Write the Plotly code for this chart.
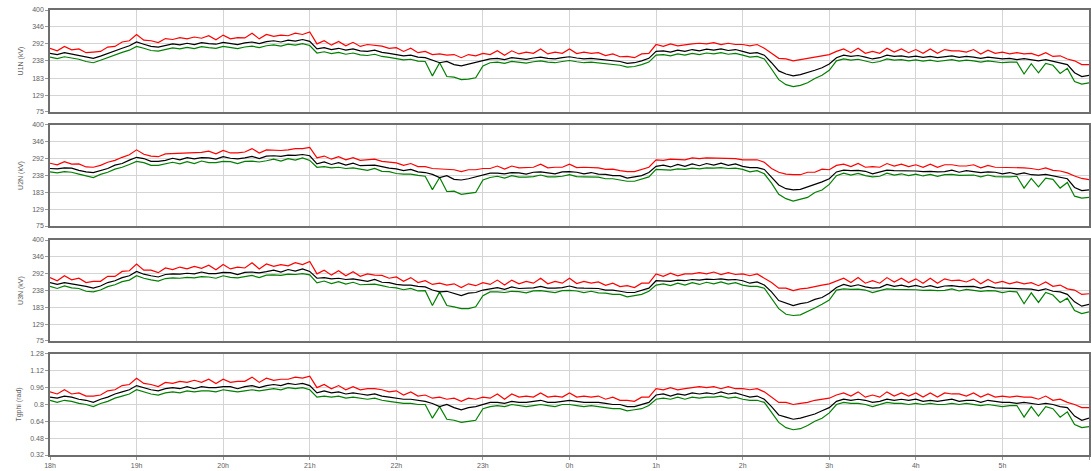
import pandas as pd
import plotly.graph_objects as go

# 5-minute samples from 18h to 6h next morning
times = pd.date_range("2013-01-14 18:00", "2013-01-15 06:00", freq="5min")
hour_ticks = pd.date_range("2013-01-14 18:00", "2013-01-15 06:00", freq="1h")
hour_labels = ["18h", "19h", "20h", "21h", "22h", "23h", "0h", "1h", "2h", "3h", "4h", "5h", "6h"]

volt_ticks = [75, 129, 183, 238, 292, 346, 400]
tg_ticks = [0.32, 0.48, 0.64, 0.8, 0.96, 1.12, 1.28]
tg_labels = ["0.32", "0.48", "0.64", "0.8", "0.96", "1.12", "1.28"]

panel_titles = ["U1N (kV)", "U2N (kV)", "U3N (kV)", "Tgphi (rad)"]

# ---- U1N ----
u1_max = [278, 270, 284, 273, 276, 264, 266, 268, 282, 284,
          298, 302, 322, 304, 302, 296, 309, 306, 312, 308,
          314, 310, 318, 305, 320, 308, 312, 311, 326, 308,
          322, 316, 320, 318, 326, 322, 330, 292, 302, 288,
          300, 286, 297, 284, 290, 288, 285, 278, 280, 268,
          278, 264, 268, 258, 260, 256, 258, 248, 258, 254,
          262, 258, 270, 256, 270, 260, 266, 262, 276, 260,
          266, 262, 276, 261, 266, 262, 264, 255, 260, 251,
          252, 248, 260, 262, 290, 284, 292, 286, 290, 292,
          294, 292, 296, 290, 294, 290, 290, 286, 290, 278,
          262, 246, 244, 238, 242, 246, 250, 256, 258, 268,
          276, 264, 278, 262, 268, 262, 278, 266, 276, 264,
          274, 262, 276, 262, 274, 270, 270, 266, 274, 260,
          272, 262, 266, 260, 264, 260, 262, 254, 264, 252,
          254, 244, 238, 226, 226]
u1_avg = [262, 258, 264, 260, 256, 250, 246, 253, 262, 270,
          278, 286, 298, 291, 284, 282, 288, 292, 289, 294,
          290, 296, 293, 291, 297, 294, 290, 295, 298, 293,
          299, 302, 298, 304, 301, 306, 300, 276, 280, 274,
          278, 272, 276, 270, 268, 272, 265, 262, 258, 254,
          256, 250, 248, 240, 232, 236, 226, 222, 228, 232,
          238, 244, 246, 242, 248, 245, 243, 247, 250, 246,
          244, 248, 251, 247, 244, 246, 243, 240, 238, 236,
          230, 232, 238, 246, 268, 270, 266, 272, 268, 274,
          270, 275, 272, 276, 271, 274, 268, 262, 264, 256,
          232, 206, 196, 190, 194, 200, 208, 216, 228, 248,
          256, 252, 255, 250, 244, 248, 256, 252, 254, 250,
          253, 249, 252, 248, 251, 254, 249, 252, 250, 246,
          250, 247, 244, 246, 242, 245, 241, 238, 242, 236,
          232, 226, 200, 188, 192]
u1_min = [250, 245, 251, 247, 243, 236, 232, 240, 249, 257,
          265, 272, 284, 278, 271, 269, 275, 279, 276, 281,
          277, 283, 280, 278, 284, 281, 277, 282, 285, 280,
          286, 289, 285, 291, 288, 293, 287, 263, 267, 261,
          265, 259, 263, 257, 255, 259, 252, 249, 245, 241,
          243, 237, 236, 190, 232, 188, 186, 178, 180, 184,
          222, 232, 234, 230, 236, 233, 231, 235, 238, 234,
          232, 236, 239, 235, 232, 234, 231, 228, 226, 224,
          218, 220, 226, 234, 256, 258, 254, 260, 256, 262,
          258, 263, 260, 264, 259, 262, 256, 250, 252, 244,
          212, 178, 162, 156, 160, 168, 182, 192, 208, 238,
          244, 240, 243, 238, 232, 236, 244, 240, 242, 238,
          241, 237, 240, 236, 239, 242, 237, 240, 238, 234,
          238, 235, 232, 234, 234, 196, 229, 200, 230, 224,
          198, 214, 172, 164, 168]

# ---- U2N ----
u2_max = [277, 272, 282, 274, 275, 265, 264, 270, 280, 286,
          296, 304, 320, 306, 300, 298, 307, 308, 310, 310,
          312, 312, 316, 307, 318, 310, 310, 313, 324, 310,
          320, 318, 318, 320, 324, 324, 328, 294, 300, 290,
          298, 288, 295, 286, 288, 290, 283, 280, 278, 270,
          276, 266, 266, 260, 258, 258, 256, 250, 256, 256,
          260, 260, 268, 258, 268, 262, 264, 264, 274, 262,
          264, 264, 274, 263, 264, 264, 262, 257, 258, 253,
          250, 250, 258, 264, 288, 286, 290, 288, 288, 294,
          292, 294, 294, 292, 292, 292, 288, 288, 288, 280,
          260, 248, 242, 240, 240, 248, 248, 258, 256, 270,
          274, 266, 276, 264, 266, 264, 276, 268, 274, 266,
          272, 264, 274, 264, 272, 272, 268, 268, 272, 262,
          270, 264, 264, 262, 262, 262, 260, 256, 262, 254,
          252, 246, 236, 228, 224]
u2_avg = [260, 259, 262, 261, 254, 249, 247, 254, 260, 271,
          276, 287, 296, 292, 283, 283, 286, 293, 288, 295,
          291, 295, 294, 290, 298, 293, 291, 294, 299, 292,
          300, 301, 299, 303, 302, 305, 301, 275, 281, 273,
          279, 271, 277, 269, 269, 271, 266, 261, 259, 253,
          257, 249, 247, 241, 231, 237, 225, 223, 227, 233,
          237, 245, 245, 243, 247, 246, 242, 248, 249, 247,
          243, 249, 250, 248, 243, 247, 242, 241, 237, 237,
          229, 233, 237, 247, 267, 271, 265, 273, 267, 275,
          269, 276, 271, 277, 270, 275, 267, 263, 263, 257,
          231, 207, 195, 191, 193, 201, 207, 217, 227, 249,
          255, 253, 254, 251, 243, 249, 255, 253, 253, 251,
          252, 250, 251, 249, 250, 255, 248, 253, 249, 247,
          249, 248, 243, 247, 241, 246, 240, 239, 241, 237,
          231, 227, 199, 189, 191]
u2_min = [249, 246, 250, 248, 242, 237, 231, 241, 248, 258,
          264, 273, 283, 279, 270, 270, 274, 280, 275, 282,
          276, 284, 279, 279, 283, 282, 276, 283, 284, 281,
          285, 290, 284, 292, 287, 294, 286, 264, 266, 262,
          264, 260, 262, 258, 254, 260, 251, 250, 244, 242,
          242, 238, 235, 192, 231, 186, 187, 177, 181, 183,
          223, 231, 235, 229, 237, 232, 232, 234, 239, 233,
          233, 235, 240, 234, 233, 233, 232, 227, 227, 223,
          219, 219, 227, 233, 257, 257, 255, 259, 257, 261,
          259, 262, 261, 263, 260, 261, 257, 249, 253, 243,
          213, 177, 163, 155, 161, 167, 183, 191, 209, 237,
          245, 239, 244, 237, 233, 235, 245, 239, 243, 237,
          242, 236, 241, 235, 240, 241, 238, 239, 239, 233,
          239, 234, 233, 233, 235, 197, 228, 201, 229, 225,
          197, 215, 171, 165, 167]

# ---- U3N ----
u3_max = [279, 269, 285, 272, 277, 263, 267, 267, 283, 283,
          299, 301, 323, 303, 303, 295, 310, 305, 313, 307,
          315, 309, 319, 304, 321, 307, 313, 310, 327, 307,
          323, 315, 321, 317, 327, 321, 331, 291, 303, 287,
          301, 285, 298, 283, 291, 287, 286, 277, 281, 267,
          279, 263, 269, 257, 261, 255, 259, 247, 259, 253,
          263, 257, 271, 255, 271, 259, 267, 261, 277, 259,
          267, 261, 277, 260, 267, 261, 265, 254, 261, 250,
          253, 247, 261, 261, 291, 283, 293, 285, 291, 291,
          295, 291, 297, 289, 295, 289, 291, 285, 291, 277,
          263, 245, 245, 237, 243, 245, 251, 255, 259, 267,
          277, 263, 279, 261, 269, 261, 279, 265, 277, 263,
          275, 261, 277, 261, 275, 269, 271, 265, 275, 259,
          273, 261, 267, 259, 265, 259, 263, 253, 265, 251,
          255, 243, 239, 225, 227]
u3_avg = [263, 257, 263, 259, 257, 251, 245, 252, 263, 269,
          279, 285, 299, 290, 285, 281, 289, 291, 290, 293,
          291, 297, 292, 292, 296, 295, 289, 296, 297, 294,
          298, 303, 297, 305, 300, 307, 299, 277, 279, 275,
          277, 273, 275, 271, 267, 273, 264, 263, 257, 255,
          255, 251, 249, 239, 233, 235, 227, 221, 229, 231,
          239, 243, 247, 241, 249, 244, 244, 246, 251, 245,
          245, 247, 252, 246, 245, 245, 244, 239, 239, 235,
          231, 231, 239, 245, 269, 269, 267, 271, 269, 273,
          271, 274, 273, 275, 272, 273, 269, 261, 265, 255,
          233, 205, 197, 189, 195, 199, 209, 215, 229, 247,
          257, 251, 256, 249, 245, 247, 257, 251, 255, 249,
          254, 248, 253, 247, 252, 253, 250, 251, 251, 245,
          251, 246, 245, 245, 243, 244, 242, 237, 243, 235,
          233, 225, 201, 187, 193]
u3_min = [251, 244, 252, 246, 244, 235, 233, 239, 250, 256,
          266, 271, 285, 277, 272, 268, 276, 278, 277, 280,
          278, 282, 281, 277, 285, 280, 278, 281, 286, 279,
          287, 288, 286, 290, 289, 292, 288, 262, 268, 260,
          266, 258, 264, 256, 256, 258, 253, 248, 246, 240,
          244, 236, 237, 189, 233, 189, 185, 179, 179, 185,
          221, 233, 233, 231, 235, 234, 230, 236, 237, 235,
          231, 237, 238, 236, 231, 235, 230, 229, 225, 225,
          217, 221, 225, 235, 255, 259, 253, 261, 255, 263,
          257, 264, 259, 265, 258, 263, 255, 251, 251, 245,
          211, 179, 161, 157, 159, 169, 181, 193, 207, 239,
          243, 241, 242, 239, 231, 237, 243, 241, 241, 239,
          240, 238, 239, 237, 238, 243, 236, 241, 237, 235,
          237, 236, 231, 235, 233, 195, 230, 199, 231, 223,
          199, 213, 173, 163, 169]

# ---- Tg phi ----
tg_max = [0.92, 0.90, 0.94, 0.90, 0.91, 0.88, 0.88, 0.89, 0.93, 0.94,
          0.98, 0.99, 1.05, 1.00, 0.99, 0.97, 1.01, 1.00, 1.02, 1.01,
          1.03, 1.01, 1.04, 1.00, 1.04, 1.01, 1.02, 1.02, 1.06, 1.01,
          1.05, 1.03, 1.04, 1.04, 1.06, 1.05, 1.07, 0.96, 0.99, 0.95,
          0.98, 0.94, 0.97, 0.94, 0.95, 0.95, 0.94, 0.92, 0.93, 0.89,
          0.92, 0.88, 0.89, 0.86, 0.87, 0.85, 0.86, 0.83, 0.86, 0.85,
          0.87, 0.86, 0.90, 0.85, 0.90, 0.87, 0.88, 0.87, 0.91, 0.87,
          0.88, 0.87, 0.91, 0.87, 0.88, 0.87, 0.88, 0.85, 0.87, 0.84,
          0.84, 0.83, 0.87, 0.87, 0.95, 0.94, 0.96, 0.94, 0.95, 0.96,
          0.97, 0.96, 0.97, 0.95, 0.97, 0.95, 0.95, 0.94, 0.95, 0.92,
          0.87, 0.82, 0.82, 0.80, 0.81, 0.82, 0.84, 0.85, 0.86, 0.89,
          0.91, 0.88, 0.92, 0.87, 0.89, 0.87, 0.92, 0.88, 0.91, 0.88,
          0.91, 0.87, 0.91, 0.87, 0.91, 0.90, 0.90, 0.88, 0.91, 0.87,
          0.90, 0.87, 0.88, 0.87, 0.88, 0.87, 0.87, 0.85, 0.88, 0.84,
          0.85, 0.82, 0.80, 0.77, 0.77]
tg_avg = [0.87, 0.86, 0.88, 0.87, 0.85, 0.84, 0.82, 0.85, 0.87, 0.90,
          0.92, 0.94, 0.98, 0.96, 0.94, 0.93, 0.95, 0.96, 0.95, 0.97,
          0.95, 0.97, 0.96, 0.96, 0.97, 0.97, 0.95, 0.97, 0.98, 0.96,
          0.98, 0.99, 0.98, 1.00, 0.99, 1.00, 0.98, 0.91, 0.93, 0.91,
          0.92, 0.90, 0.91, 0.90, 0.89, 0.90, 0.88, 0.87, 0.86, 0.85,
          0.85, 0.84, 0.83, 0.81, 0.78, 0.80, 0.77, 0.75, 0.77, 0.78,
          0.80, 0.82, 0.82, 0.81, 0.83, 0.82, 0.82, 0.83, 0.84, 0.82,
          0.82, 0.83, 0.84, 0.83, 0.82, 0.82, 0.82, 0.81, 0.80, 0.80,
          0.78, 0.78, 0.80, 0.82, 0.89, 0.90, 0.88, 0.90, 0.89, 0.91,
          0.90, 0.91, 0.90, 0.92, 0.90, 0.91, 0.89, 0.87, 0.88, 0.85,
          0.78, 0.70, 0.68, 0.66, 0.67, 0.69, 0.71, 0.74, 0.77, 0.83,
          0.85, 0.84, 0.85, 0.84, 0.82, 0.83, 0.85, 0.84, 0.85, 0.84,
          0.85, 0.83, 0.84, 0.83, 0.84, 0.85, 0.83, 0.84, 0.84, 0.82,
          0.84, 0.83, 0.82, 0.82, 0.81, 0.82, 0.81, 0.80, 0.81, 0.80,
          0.78, 0.77, 0.69, 0.65, 0.67]
tg_min = [0.84, 0.82, 0.84, 0.83, 0.81, 0.80, 0.78, 0.81, 0.83, 0.86,
          0.88, 0.90, 0.94, 0.92, 0.90, 0.89, 0.91, 0.92, 0.91, 0.93,
          0.92, 0.93, 0.93, 0.92, 0.94, 0.93, 0.92, 0.93, 0.94, 0.93,
          0.94, 0.95, 0.94, 0.96, 0.95, 0.96, 0.94, 0.87, 0.88, 0.87,
          0.88, 0.86, 0.87, 0.86, 0.85, 0.86, 0.84, 0.83, 0.82, 0.81,
          0.81, 0.80, 0.80, 0.67, 0.78, 0.66, 0.65, 0.63, 0.64, 0.65,
          0.76, 0.78, 0.79, 0.78, 0.80, 0.79, 0.78, 0.79, 0.80, 0.79,
          0.78, 0.80, 0.80, 0.79, 0.78, 0.79, 0.78, 0.77, 0.76, 0.76,
          0.74, 0.75, 0.76, 0.79, 0.85, 0.86, 0.85, 0.87, 0.85, 0.87,
          0.86, 0.87, 0.87, 0.88, 0.86, 0.87, 0.85, 0.84, 0.84, 0.82,
          0.72, 0.63, 0.58, 0.56, 0.57, 0.60, 0.64, 0.67, 0.72, 0.80,
          0.82, 0.81, 0.81, 0.80, 0.78, 0.80, 0.82, 0.81, 0.81, 0.80,
          0.81, 0.80, 0.81, 0.80, 0.80, 0.81, 0.80, 0.81, 0.80, 0.79,
          0.80, 0.79, 0.78, 0.79, 0.79, 0.68, 0.78, 0.69, 0.78, 0.76,
          0.68, 0.73, 0.61, 0.58, 0.59]

panels = [
    (u1_min, u1_avg, u1_max),
    (u2_min, u2_avg, u2_max),
    (u3_min, u3_avg, u3_max),
    (tg_min, tg_avg, tg_max),
]

# vertical extent of each panel in paper coordinates (top to bottom)
domains = [[0.7708, 1.0], [0.5146, 0.7416], [0.2562, 0.4831], [0.0, 0.2270]]

COL_MIN = "#008000"
COL_AVG = "#000000"
COL_MAX = "#ff0000"
GRID = "#d4d4d4"
FRAME = "#6e6e6e"
TEXT = "#606060"

fig = go.Figure()
for k, (lo, mid, hi) in enumerate(panels, start=1):
    xa = "x" if k == 1 else f"x{k}"
    ya = "y" if k == 1 else f"y{k}"
    for vals, col in ((lo, COL_MIN), (mid, COL_AVG), (hi, COL_MAX)):
        fig.add_trace(go.Scatter(x=times, y=vals, mode="lines", xaxis=xa, yaxis=ya,
                                 line=dict(color=col, width=1.2), showlegend=False,
                                 hoverinfo="skip"))

layout = dict(
    width=1091, height=471,
    margin=dict(l=50, r=0, t=10, b=16),
    paper_bgcolor="white", plot_bgcolor="white",
    font=dict(family="Liberation Sans, Arial, sans-serif", size=7, color=TEXT),
    showlegend=False,
)

for k in range(1, 5):
    xkey = "xaxis" if k == 1 else f"xaxis{k}"
    ykey = "yaxis" if k == 1 else f"yaxis{k}"
    yref = "y" if k == 1 else f"y{k}"
    xref = "x" if k == 1 else f"x{k}"
    layout[xkey] = dict(
        domain=[0, 1], anchor=yref,
        range=[times[0], times[-1]],
        tickvals=list(hour_ticks), ticktext=hour_labels,
        showticklabels=(k == 4),
        showgrid=True, gridcolor=GRID, gridwidth=1,
        showline=True, mirror=True, linecolor=FRAME, linewidth=1.5,
        ticks="outside" if k == 4 else "", ticklen=3, tickcolor="#999",
        tickfont=dict(size=7, color=TEXT),
        zeroline=False,
    )
    if k == 4:
        yvals, ytext, yrange = tg_ticks, tg_labels, [0.32, 1.28]
    else:
        yvals, ytext, yrange = volt_ticks, [str(v) for v in volt_ticks], [75, 400]
    layout[ykey] = dict(
        domain=domains[k - 1], anchor=xref,
        range=yrange, tickvals=yvals, ticktext=ytext,
        showgrid=True, gridcolor=GRID, gridwidth=1,
        showline=True, mirror=True, linecolor=FRAME, linewidth=1.5,
        ticks="outside", ticklen=3, tickcolor="#999",
        tickfont=dict(size=7, color=TEXT),
        title=dict(text=panel_titles[k - 1], font=dict(size=7, color=TEXT), standoff=8),
        zeroline=False,
    )

fig.update_layout(**layout)
fig.write_html("out.html")
